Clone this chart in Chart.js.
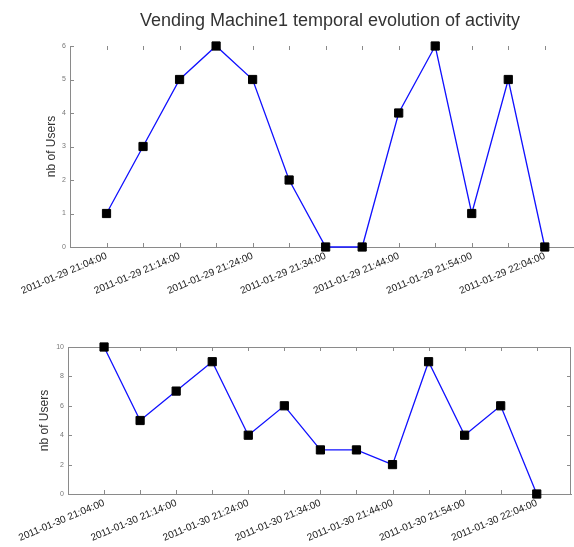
<!DOCTYPE html>
<html lang="en">
<head>
  <meta charset="UTF-8"/>
  <title>Vending Machine1 temporal evolution of activity</title>
  <script src="https://cdn.jsdelivr.net/npm/chart.js"></script>
  <style>
    html, body { margin:0; padding:0; background:#fff; }
    #wrap { position:relative; width:574px; height:547px; overflow:hidden; }
    #title {
      position:absolute; left:0; top:10px; width:660px; height:18px; line-height:18px;
      text-align:center; font:18px "Liberation Sans", Arial, sans-serif; color:#333;
      white-space:nowrap;
    }
    #c1 { position:absolute; left:0; top:0; }
    #c2 { position:absolute; left:0; top:300px; }
  </style>
</head>
<body>
<div id="wrap">
  <canvas id="c1" width="574" height="300"></canvas>
  <canvas id="c2" width="574" height="247"></canvas>
  <div id="title">Vending Machine1 temporal evolution of activity</div>
</div>

<script>
/* ===== data ===== */
const times1 = [
  "2011-01-29 21:04:00","2011-01-29 21:09:00","2011-01-29 21:14:00","2011-01-29 21:19:00",
  "2011-01-29 21:24:00","2011-01-29 21:29:00","2011-01-29 21:34:00","2011-01-29 21:39:00",
  "2011-01-29 21:44:00","2011-01-29 21:49:00","2011-01-29 21:54:00","2011-01-29 21:59:00",
  "2011-01-29 22:04:00"
];
const users1 = [1, 3, 5, 6, 5, 2, 0, 0, 4, 6, 1, 5, 0];

const times2 = [
  "2011-01-30 21:04:00","2011-01-30 21:09:00","2011-01-30 21:14:00","2011-01-30 21:19:00",
  "2011-01-30 21:24:00","2011-01-30 21:29:00","2011-01-30 21:34:00","2011-01-30 21:39:00",
  "2011-01-30 21:44:00","2011-01-30 21:49:00","2011-01-30 21:54:00","2011-01-30 21:59:00",
  "2011-01-30 22:04:00"
];
const users2 = [10, 5, 7, 9, 4, 6, 3, 3, 2, 9, 4, 6, 0];

const yLabel = "nb of Users";

Chart.defaults.font.family = '"Liberation Sans", Arial, sans-serif';
Chart.defaults.animation = false;

// matlab-like inward ticks (+ optional box)
const innerTicks = {
  id: 'innerTicks',
  beforeDatasetsDraw(chart, args, opts) {
    const {ctx, chartArea: a, scales: {x, y}} = chart;
    const len = 4;
    ctx.save();
    ctx.strokeStyle = '#8a8a8a';
    ctx.lineWidth = 1;
    ctx.beginPath();
    x.ticks.forEach(t => {
      const px = Math.round(x.getPixelForValue(t.value)) + 0.5;
      ctx.moveTo(px, a.bottom); ctx.lineTo(px, a.bottom - len);
      ctx.moveTo(px, a.top); ctx.lineTo(px, a.top + len);
    });
    y.ticks.forEach(t => {
      const py = Math.round(y.getPixelForValue(t.value)) + 0.5;
      ctx.moveTo(a.left, py); ctx.lineTo(a.left + len, py);
      if (opts.box) { ctx.moveTo(a.right, py); ctx.lineTo(a.right - len, py); }
    });
    if (opts.box) {
      ctx.moveTo(a.left, Math.round(a.top) + 0.5); ctx.lineTo(a.right, Math.round(a.top) + 0.5);
      ctx.moveTo(Math.round(a.right) - 0.5, a.top); ctx.lineTo(Math.round(a.right) - 0.5, a.bottom);
    }
    ctx.stroke();
    ctx.restore();
  }
};

function makeChart(id, times, users, o) {
  return new Chart(document.getElementById(id), {
    type: 'line',
    data: {
      datasets: [{
        data: users.map((v, i) => ({x: i, y: v})),
        borderColor: '#1010ff',
        borderWidth: 1.3,
        tension: 0,
        pointStyle: 'rect',
        pointRadius: 5.8,
        pointBackgroundColor: '#000',
        pointBorderColor: '#000',
        pointBorderWidth: 1,
        clip: false
      }]
    },
    options: {
      responsive: false,
      layout: { autoPadding: false, padding: {top: o.top, right: o.right, left: 0, bottom: 0} },
      plugins: {
        legend: { display: false },
        tooltip: { enabled: false },
        innerTicks: { box: o.box }
      },
      scales: {
        x: {
          type: 'linear',
          min: -1, max: o.xmax,
          grid: { display: false, drawTicks: false },
          border: { display: true, color: '#8a8a8a', width: 1 },
          afterBuildTicks: s => { s.ticks = times.map((_, i) => ({value: i})); },
          afterFit: s => { s.height = 53; s.paddingLeft = 0; s.paddingRight = 0; },
          ticks: {
            autoSkip: false,
            minRotation: 23, maxRotation: 23,
            padding: 3,
            color: '#222',
            font: { size: 10 },
            callback: v => (v % 2 === 0) ? times[v] : ''
          }
        },
        y: {
          min: 0, max: o.ymax,
          grid: { display: false, drawTicks: false },
          border: { display: true, color: '#8a8a8a', width: 1 },
          afterFit: s => { s.width = o.left; },
          title: {
            display: true, text: yLabel, color: '#333',
            font: { size: 12 },
            padding: { top: o.titleOff, bottom: 0 }
          },
          ticks: {
            stepSize: o.ystep,
            padding: 4,
            color: '#777',
            font: { size: 7 }
          }
        }
      }
    },
    plugins: [innerTicks]
  });
}

makeChart('c1', times1, users1, {top: 46, right: 0, left: 70, xmax: 12.8, ymax: 6, ystep: 1, titleOff: 44, box: false});
makeChart('c2', times2, users2, {top: 47, right: 3, left: 68, xmax: 12.95, ymax: 10, ystep: 2, titleOff: 37, box: true});
</script>
</body>
</html>
